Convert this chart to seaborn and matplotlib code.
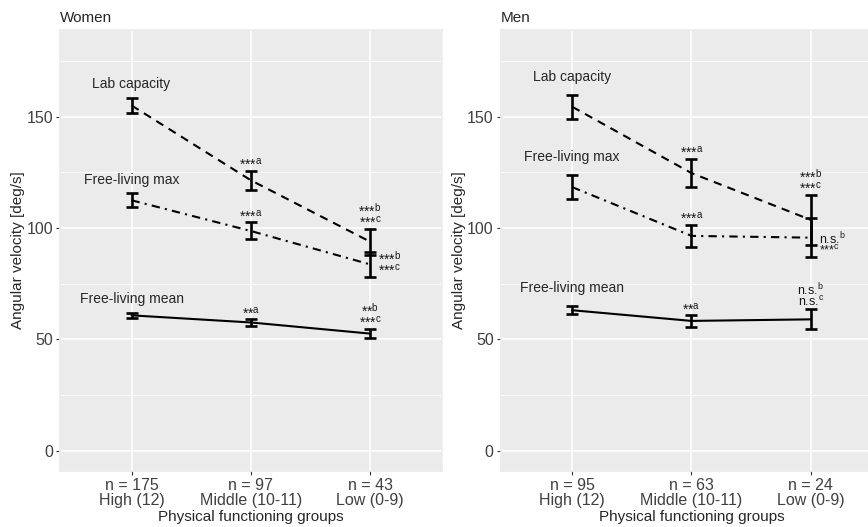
import numpy as np
import pandas as pd
import seaborn as sns
import matplotlib.pyplot as plt
from matplotlib.ticker import MultipleLocator

# categories
groups = ["High (12)", "Middle (10-11)", "Low (0-9)"]
series = ["Lab capacity", "Free-living max", "Free-living mean"]

# Women: means and 95% CI
women_n = [175, 97, 43]
women_lab = [155.1, 121.5, 93.9]
women_lab_lo = [151.6, 117.3, 88.1]
women_lab_hi = [158.6, 125.8, 99.6]
women_max = [112.5, 98.7, 83.7]
women_max_lo = [109.3, 94.9, 78.1]
women_max_hi = [115.8, 102.6, 89.3]
women_mean = [60.8, 57.6, 52.6]
women_mean_lo = [59.6, 56.2, 50.4]
women_mean_hi = [62.0, 59.0, 54.8]

# Men
men_n = [95, 63, 24]
men_lab = [154.5, 124.7, 103.7]
men_lab_lo = [149.1, 118.3, 92.6]
men_lab_hi = [159.8, 131.0, 114.9]
men_max = [118.4, 96.5, 95.7]
men_max_lo = [113.1, 91.4, 86.9]
men_max_hi = [123.7, 101.6, 104.6]
men_mean = [63.1, 58.3, 59.0]
men_mean_lo = [61.2, 55.7, 54.5]
men_mean_hi = [65.0, 60.8, 63.5]

# significance labels (last character is superscript)
women_sig_lab = ["", "***a", "***b\n***c"]
women_sig_max = ["", "***a", "***b\n***c"]
women_sig_mean = ["", "**a", "**b\n***c"]
men_sig_lab = ["", "***a", "***b\n***c"]
men_sig_max = ["", "***a", "n.s.b\n***c"]
men_sig_mean = ["", "**a", "n.s.b\nn.s.c"]
# where the label sits relative to the bar
sig_side_max = ["above", "above", "right"]

dash_styles = {"Lab capacity": (4, 3), "Free-living max": (4, 2.5, 1, 2.5),
               "Free-living mean": ""}

sns.set_theme(style="darkgrid", rc={
    "axes.facecolor": "#EBEBEB", "grid.color": "white",
    "axes.edgecolor": "#EBEBEB", "xtick.bottom": True, "ytick.left": True,
})
plt.rcParams["font.family"] = ["Liberation Sans", "DejaVu Sans"]


def sig_text(ax, t, x, y, dx, ha):
    # last char of each line as superscript
    lines = [s[:-1] + r"$^{\mathregular{" + s[-1] + "}}$" for s in t.split("\n")]
    size = 9 if "n.s." in t else 10
    ax.annotate("\n".join(lines), (x, y), xytext=(dx, 0.3),
                textcoords="offset points", ha=ha, va="bottom",
                fontsize=size, color="#1a1a1a", linespacing=0.72,
                multialignment="center" if ha == "center" else "left")


def panel(ax, title, n, data, sigs, label_off):
    x = np.arange(len(groups))
    rows = []
    for name, (m, lo, hi) in zip(series, data):
        for i in x:
            rows.append({"x": i, "v": m[i], "series": name})
    df = pd.DataFrame(rows)
    sns.lineplot(data=df, x="x", y="v", style="series", dashes=dash_styles,
                 color="black", linewidth=1.5, legend=False, ax=ax)
    for name, (m, lo, hi), sig in zip(series, data, sigs):
        m, lo, hi = map(np.asarray, (m, lo, hi))
        ax.errorbar(x, m, yerr=[m - lo, hi - m], fmt="none", ecolor="black",
                    elinewidth=1.9, capsize=4, capthick=1.9)
        ax.annotate(name, (0, hi[0]), xytext=(0, label_off),
                    textcoords="offset points", ha="center", va="bottom",
                    fontsize=10)
        for i, t in enumerate(sig):
            if not t:
                continue
            side = sig_side_max[i] if name == "Free-living max" else "above"
            if side == "right":
                sig_text(ax, t, i, lo[i], 6, "left")
            else:
                sig_text(ax, t, i, hi[i], 0, "center")
    ax.set_xlim(-0.6, 2.6)
    ax.set_ylim(-9, 189)
    ax.set_yticks([0, 50, 100, 150])
    ax.yaxis.set_minor_locator(MultipleLocator(25))
    ax.grid(which="major", linewidth=1.1)
    ax.grid(which="minor", axis="y", linewidth=0.6)
    ax.set_xticks(x)
    ax.set_xticklabels([f"n = {k}\n{g}" for k, g in zip(n, groups)],
                       linespacing=1.05)
    ax.tick_params(which="major", length=3, width=0.8, color="#333333",
                   labelsize=11.5, labelcolor="#404040", pad=2)
    ax.tick_params(which="minor", length=0)
    ax.set_xlabel("Physical functioning groups", fontsize=11, labelpad=1)
    ax.set_ylabel("Angular velocity [deg/s]", fontsize=11, labelpad=1)
    ax.set_title(title, loc="left", fontsize=11, pad=6)


fig = plt.figure(figsize=(8.68, 5.27), dpi=100)
ax1 = fig.add_axes([0.0691, 0.1068, 0.4397, 0.8363])
ax2 = fig.add_axes([0.5768, 0.1068, 0.4397, 0.8363])

panel(ax1, "Women", women_n,
      [(women_lab, women_lab_lo, women_lab_hi),
       (women_max, women_max_lo, women_max_hi),
       (women_mean, women_mean_lo, women_mean_hi)],
      [women_sig_lab, women_sig_max, women_sig_mean], 4.5)
panel(ax2, "Men", men_n,
      [(men_lab, men_lab_lo, men_lab_hi),
       (men_max, men_max_lo, men_max_hi),
       (men_mean, men_mean_lo, men_mean_hi)],
      [men_sig_lab, men_sig_max, men_sig_mean], 8)

fig.savefig("out.png", dpi=100)
